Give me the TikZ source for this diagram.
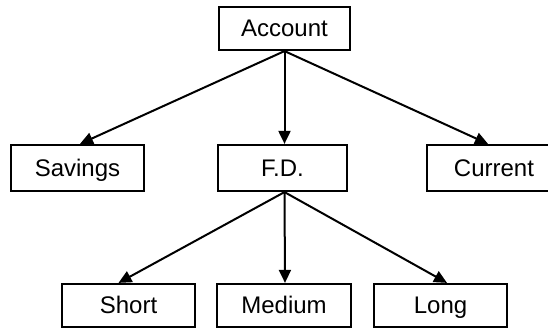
\documentclass[tikz,border=0pt]{standalone}
\usepackage{fontspec}
\setmainfont{Liberation Sans}
\usetikzlibrary{arrows.meta}
\begin{document}
\begin{tikzpicture}[x=1pt,y=1pt,
  box/.style={draw, line width=2.2pt, minimum width=131pt, minimum height=44pt,
    inner sep=0pt, text height=19pt, text depth=2pt,
    font=\fontsize{24}{27}\selectfont},
  link/.style={line width=2pt, -{Triangle[length=13pt,width=12pt]}}]
\useasboundingbox (0,0) rectangle (548,328);
% top level
\node[box, minimum height=43pt] (acc) at (284.5,299.5) {Account};
% second level
\node[box, minimum width=133pt, minimum height=46pt] (sav) at (77.5,160) {Savings};
\node[box, minimum width=129pt, minimum height=46pt] (fd) at (282.5,160) {F.D.};
\node[box, minimum width=134pt, minimum height=46pt] (cur) at (494,160) {Current};
% third level
\node[box, minimum width=133pt, minimum height=43pt] (sho) at (128.5,22.5) {Short};
\node[box, minimum width=134pt, minimum height=43pt] (med) at (284,22.5) {Medium};
\node[box, minimum width=133pt, minimum height=43pt] (lon) at (440.5,22.5) {Long};
% connectors
\draw[link] (acc.south) -- ([xshift=2.5pt]sav.north);
\draw[link] (acc.south) -- (acc.south |- fd.north);
\draw[link] (acc.south) -- ([xshift=-6pt]cur.north);
\draw[link] ([xshift=2pt]fd.south) -- ([xshift=-10pt]sho.north);
\draw[link] ([xshift=2pt]fd.south) -- ([xshift=1pt]med.north);
\draw[link] ([xshift=2pt]fd.south) -- ([xshift=6.5pt]lon.north);
\end{tikzpicture}
\end{document}
